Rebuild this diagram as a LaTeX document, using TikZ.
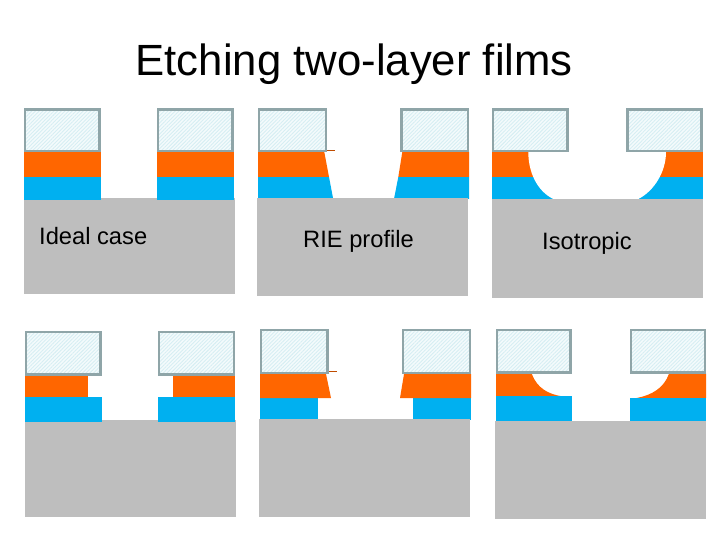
\documentclass[tikz,border=0pt]{standalone}
\usepackage{fontspec}
\setmainfont{Liberation Sans}
\usetikzlibrary{patterns.meta}
\definecolor{orangefilm}{HTML}{FF6600}
\definecolor{bluefilm}{HTML}{00B0F0}
\definecolor{substrate}{HTML}{BEBEBE}
\definecolor{maskedge}{HTML}{8FA5A8}
\definecolor{maskbase}{HTML}{F4FBFC}
\definecolor{maskhatch}{HTML}{D6EEF3}
\tikzset{
  orangelayer/.style={fill=orangefilm,draw=none},
  bluelayer/.style={fill=bluefilm,draw=none},
  grayblock/.style={fill=substrate,draw=none},
  cleared/.style={fill=white,draw=none},
  maskblock/.style={draw=maskedge,line width=2.4pt,
    preaction={fill=maskbase},
    preaction={pattern={Lines[angle=45,distance=2.6pt,line width=0.9pt]},pattern color=maskhatch}},
  sliver/.style={draw=orangefilm!75!black,line width=0.6pt},
  caption/.style={anchor=base west,inner sep=0pt,font=\fontsize{23.7}{26}\selectfont,text=black},
  headline/.style={anchor=base west,inner sep=0pt,font=\fontsize{43.7}{48}\selectfont,text=black}
}
\begin{document}
\begin{tikzpicture}[x=1pt,y=-1pt]
\useasboundingbox (0,0) rectangle (720,540);
\fill[white] (0,0) rectangle (720,540);
\node[headline] (title) at (135.5,76) {Etching two-layer films};

% Panel 1: ideal case
\fill[grayblock] (24,198) rectangle (235,294);
\fill[bluelayer] (24,177) rectangle (101,200);
\fill[bluelayer] (157,177) rectangle (234,200);
\fill[orangelayer] (24,152) rectangle (101,177);
\fill[orangelayer] (157,152) rectangle (234,177);
\draw[maskblock] (25.2,109.5) rectangle (99.5,151.2);
\draw[maskblock] (158.2,109.5) rectangle (232.5,151.2);
\node[caption] (ideal) at (39,244.3) {Ideal case};

% Panel 2: RIE profile
\fill[bluelayer] (258,177) -- (329,177) -- (333.2,199) -- (258,199) -- cycle;
\fill[bluelayer] (398.3,177) -- (469,177) -- (469,199) -- (394,199) -- cycle;
\fill[grayblock] (257,198) rectangle (468,296);
\fill[orangelayer] (258,152) -- (324.3,152) -- (329,177) -- (258,177) -- cycle;
\fill[orangelayer] (402.3,152) -- (469,152) -- (469,177) -- (398.3,177) -- cycle;
\draw[sliver] (326,150.3) -- (335,150.3);
\draw[maskblock] (259.2,109.5) rectangle (325.8,151.2);
\draw[maskblock] (401.5,109.5) rectangle (467.8,151.2);
\node[caption] (rie) at (303,247.7) {RIE profile};

% Panel 3: isotropic
\fill[grayblock] (492,199) rectangle (703,298);
\fill[bluelayer] (492,177) rectangle (703,199);
\fill[orangelayer] (492,152) rectangle (703,177);
\fill[cleared] (528.3,152) .. controls (528.3,172) and (537,191) .. (553.3,199)
  -- (638.3,199) .. controls (654,191) and (666,172) .. (666,152) -- cycle;
\draw[maskblock] (493.2,109.5) rectangle (567.5,151.2);
\draw[maskblock] (627.5,109.5) rectangle (701.5,151.2);
\node[caption] (iso) at (542,249.3) {Isotropic};

% Panel 4
\fill[grayblock] (25,420) rectangle (236,517);
\fill[bluelayer] (25,397) rectangle (102,422);
\fill[bluelayer] (158,397) rectangle (235,422);
\fill[orangelayer] (25,375.7) rectangle (88,397);
\fill[orangelayer] (173,375.7) rectangle (235,397);
\draw[maskblock] (26.2,332.2) rectangle (100.5,374.5);
\draw[maskblock] (159.2,332.2) rectangle (233.8,374.5);

% Panel 5
\fill[bluelayer] (260,398) rectangle (318,420);
\fill[bluelayer] (413,398) rectangle (471,420);
\fill[grayblock] (259,419) rectangle (470,517);
\fill[orangelayer] (260,374) -- (326,374) -- (331,398) -- (260,398) -- cycle;
\fill[orangelayer] (404,374) -- (471,374) -- (471,398) -- (400,398) -- cycle;
\draw[sliver] (328,371) -- (337,371);
\draw[maskblock] (261.2,330.2) rectangle (327.5,372.8);
\draw[maskblock] (403.2,330.2) rectangle (469.8,372.8);

% Panel 6
\fill[grayblock] (495,421) rectangle (706,519);
\fill[orangelayer] (496,373.7) -- (531.7,373.7) .. controls (537,388) and (548,394) .. (561.7,396.3) -- (496,396.3) -- cycle;
\fill[orangelayer] (706,373.7) -- (669,373.7) .. controls (664,388) and (652,395) .. (636.7,398) -- (706,398) -- cycle;
\fill[bluelayer] (496,396) rectangle (572,421);
\fill[bluelayer] (630,398) rectangle (706,421);
\draw[maskblock] (497.2,330.2) rectangle (570.5,372.5);
\draw[maskblock] (631.2,330.2) rectangle (704.8,372.5);
\end{tikzpicture}
\end{document}
